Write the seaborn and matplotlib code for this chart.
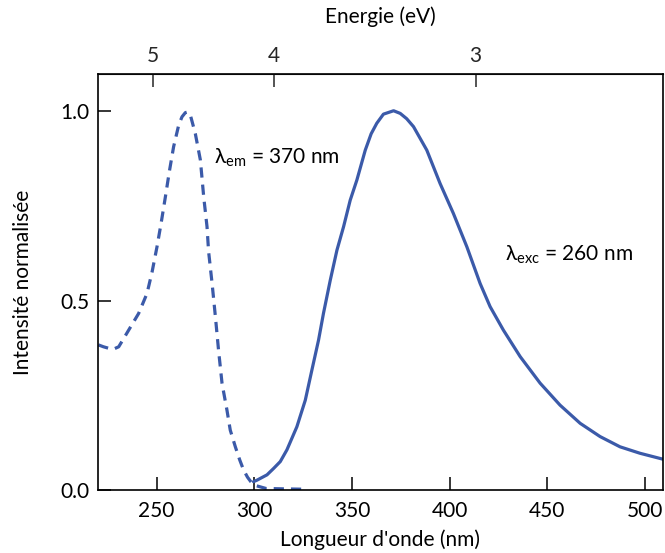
import numpy as np
import pandas as pd
import matplotlib
matplotlib.use("Agg")
import matplotlib.pyplot as plt
import seaborn as sns

# Excitation spectrum (lambda_em = 370 nm) - dashed
exc_wl = [220.2, 222.8, 225.5, 228.0, 230.6, 235.7, 240.8, 245.1, 247.7, 250.2,
          252.3, 254.5, 256.5, 258.7, 261.3, 263.0, 264.7, 266.0, 267.3, 269.8,
          272.4, 274.1, 275.8, 276.6, 278.4, 280.1, 281.7, 283.5, 286.0, 287.7,
          290.3, 292.5, 294.5, 296.5, 298.5, 300.5, 306.0, 315.0, 326.0]
exc_int = [0.383, 0.378, 0.374, 0.372, 0.378, 0.422, 0.466, 0.519, 0.576, 0.642,
           0.704, 0.774, 0.840, 0.906, 0.963, 0.985, 0.996, 0.998, 0.989, 0.941,
           0.871, 0.774, 0.695, 0.630, 0.545, 0.457, 0.369, 0.281, 0.211, 0.158,
           0.114, 0.080, 0.053, 0.034, 0.020, 0.012, 0.004, 0.003, 0.002]

# Emission spectrum (lambda_exc = 260 nm) - solid
em_wl = [299.6, 301.4, 306.5, 309.9, 313.3, 316.7, 321.8, 326.1, 329.5, 332.9,
         335.4, 338.9, 342.3, 345.7, 349.1, 352.5, 356.8, 359.8, 362.7, 366.1,
         371.3, 374.7, 378.0, 381.5, 388.3, 395.1, 401.9, 408.8, 415.6, 420.7,
         427.5, 436.1, 446.3, 456.5, 466.8, 477.0, 487.2, 497.4, 509.4]
em_int = [0.022, 0.026, 0.040, 0.057, 0.075, 0.106, 0.167, 0.237, 0.317, 0.396,
          0.466, 0.554, 0.633, 0.695, 0.765, 0.818, 0.897, 0.940, 0.968, 0.992,
          1.001, 0.994, 0.980, 0.959, 0.897, 0.809, 0.730, 0.642, 0.545, 0.484,
          0.422, 0.352, 0.282, 0.224, 0.176, 0.141, 0.114, 0.097, 0.081]

x_ticks = [250, 300, 350, 400, 450, 500]
y_ticks = [0.0, 0.5, 1.0]
y_ticklabels = ["0.0", "0.5", "1.0"]
energy_ticks = [5, 4, 3]

sns.set_style("ticks")
plt.rcParams['font.family'] = ['Lato', 'DejaVu Sans']
plt.rcParams['mathtext.fontset'] = 'custom'
plt.rcParams['mathtext.rm'] = 'Lato'
plt.rcParams['mathtext.it'] = 'Lato'
plt.rcParams['text.color'] = 'black'
plt.rcParams['axes.labelcolor'] = 'black'

color = "#3b5aa9"
fs = 15

fig = plt.figure(figsize=(6.65, 5.53), dpi=100)
ax = fig.add_axes([98/665, 1 - 490/553, (663 - 98)/665, (490 - 74)/553])

df_exc = pd.DataFrame({"wl": exc_wl, "I": exc_int})
df_em = pd.DataFrame({"wl": em_wl, "I": em_int})

sns.lineplot(data=df_exc, x="wl", y="I", ax=ax, color=color, lw=2.3,
             linestyle=(0, (3.2, 2.2)), sort=False)
sns.lineplot(data=df_em, x="wl", y="I", ax=ax, color=color, lw=2.3, sort=False)

ax.set_xlim(220, 509.2)
ax.set_ylim(0, 1.098)
ax.set_xticks(x_ticks)
ax.set_yticks(y_ticks)
ax.set_yticklabels(y_ticklabels)
ax.tick_params(axis="x", direction="in", length=9.5, width=1.1, labelsize=fs, colors="black", pad=8)
ax.tick_params(axis="y", direction="in", length=9.5, width=1.1, labelsize=fs, colors="black", pad=6)
for s in ax.spines.values():
    s.set_visible(True)
    s.set_linewidth(1.2)
    s.set_color("black")

ax.set_xlabel("Longueur d'onde (nm)", fontsize=fs, labelpad=6)
ax.set_ylabel("Intensité normalisée", fontsize=fs, labelpad=20)

sec = ax.secondary_xaxis("top", functions=(lambda x: 1240.0 / np.asarray(x, dtype=float),
                                           lambda e: 1240.0 / np.asarray(e, dtype=float)))
sec.set_xticks(energy_ticks)
sec.set_xticklabels([str(t) for t in energy_ticks])
sec.tick_params(direction="in", length=9.5, width=1.1, labelsize=fs, pad=6)
sec.set_xlabel("Energie (eV)", fontsize=fs, labelpad=16)

ax.text(279.5, 0.876, r"λ$_{\mathrm{em}}$ = 370 nm", fontsize=fs, va="center", ha="left")
ax.text(428.5, 0.62, r"λ$_{\mathrm{exc}}$ = 260 nm", fontsize=fs, va="center", ha="left")

fig.savefig("out.png", dpi=100)
